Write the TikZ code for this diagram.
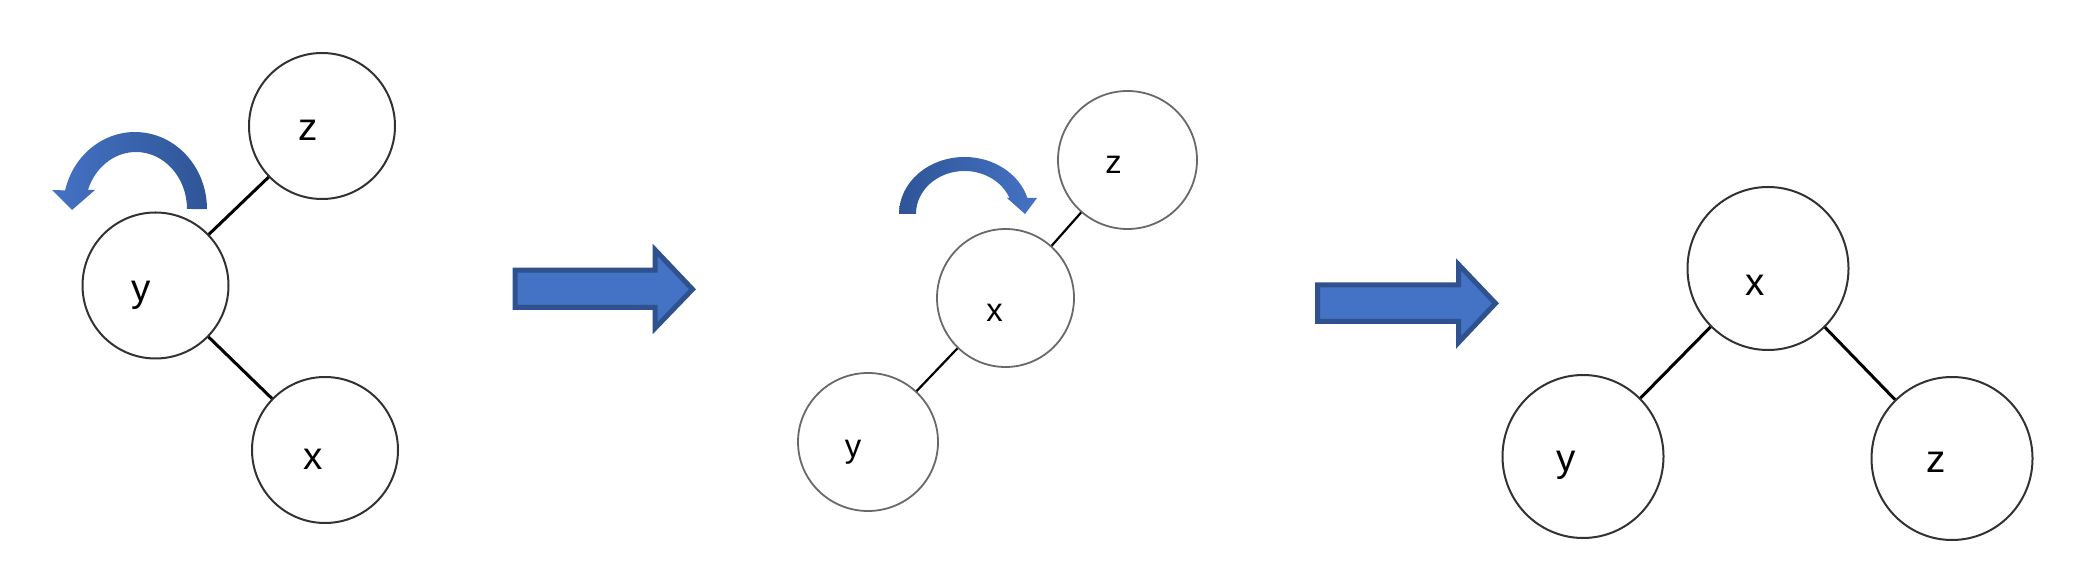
\documentclass[tikz,border=0pt]{standalone}
\usepackage{fontspec}
\setmainfont{Liberation Sans}
\usetikzlibrary{shapes.geometric}
\definecolor{arrfill}{RGB}{68,114,196}
\definecolor{arrline}{RGB}{47,82,143}
\definecolor{arrdark}{RGB}{47,85,151}
\definecolor{ringA}{RGB}{50,50,50}
\definecolor{ringB}{RGB}{105,105,105}
\tikzset{
  treenode/.style={ellipse, draw=ringA, line width=1pt, inner sep=0pt, fill=white},
  smallnode/.style={ellipse, draw=ringB, line width=0.9pt, inner sep=0pt, fill=white},
  lbl/.style={font=\fontsize{19.3}{22}\selectfont, text height=10pt, text depth=0pt, inner sep=0pt},
  lblsmall/.style={font=\fontsize{16.4}{19}\selectfont, text height=8.5pt, text depth=0pt, inner sep=0pt},
  edge/.style={draw=black, line width=1.5pt},
  edgesmall/.style={draw=black, line width=1.1pt},
  blockarrow/.style={fill=arrfill, draw=arrline, line width=2.5pt, line join=miter},
}
\begin{document}
\begin{tikzpicture}[x=0.5pt, y=0.5pt]
\useasboundingbox (0,0) rectangle (2081,583);

% ---------- diagram 1 ----------
\node[treenode, minimum width=73pt, minimum height=73pt,
      label={[lbl, xshift=-7pt, yshift=-2.5pt]center:z}] (z1) at (322,457) {};
\node[treenode, minimum width=73pt, minimum height=73pt,
      label={[lbl, xshift=-7pt, yshift=-3pt]center:y}] (y1) at (155.5,297.5) {};
\node[treenode, minimum width=73pt, minimum height=73pt,
      label={[lbl, xshift=-6pt, yshift=-5pt]center:x}] (x1) at (325,133) {};
\draw[edge] (y1) -- (z1);
\draw[edge] (y1) -- (x1);

% curved arrow 1 (rotating left)
\shade[left color=arrfill, right color=arrdark]
  (187,374) arc[start angle=0, end angle=160.5, x radius=51, y radius=57]
  -- (95,393) -- (72,373) -- (52,393) -- (65.1,392.6)
  arc[start angle=166, end angle=0, x radius=72, y radius=77]
  -- cycle;

% ---------- block arrow 1 ----------
\coordinate (ba1) at (515.2,312.8);
\draw[blockarrow] (ba1) -- (655.2,312.8) -- (655.2,333) -- (692.5,293.7)
  -- (655.2,255) -- (655.2,275.5) -- (515.2,275.5) -- cycle;

% ---------- diagram 2 ----------
\node[smallnode, minimum width=69.5pt, minimum height=69pt,
      label={[lblsmall, xshift=-7pt, yshift=-2.5pt]center:z}] (z2) at (1127.5,423) {};
\node[smallnode, minimum width=68.5pt, minimum height=69pt,
      label={[lblsmall, xshift=-5.5pt, yshift=-7.5pt]center:x}] (x2) at (1005.5,285) {};
\node[smallnode, minimum width=70pt, minimum height=69pt,
      label={[lblsmall, xshift=-7.5pt, yshift=-3.5pt]center:y}] (y2) at (868,141) {};
\draw[edgesmall] (x2) -- (z2);
\draw[edgesmall] (y2) -- (x2);

% curved arrow 2 (rotating right)
\shade[left color=arrdark, right color=arrfill]
  (899,369) arc[start angle=180, end angle=16.3, x radius=65.5, y radius=57]
  -- (1037,385) -- (1025,369) -- (1007,385) -- (1009.5,385)
  arc[start angle=21.8, end angle=180, x radius=48.5, y radius=43]
  -- cycle;

% ---------- block arrow 2 ----------
\coordinate (ba2) at (1317.5,298.2);
\draw[blockarrow] (ba2) -- (1458.5,298.2) -- (1458.5,318.5) -- (1495.5,279.7)
  -- (1458.5,240.5) -- (1458.5,261.5) -- (1317.5,261.5) -- cycle;

% ---------- diagram 3 ----------
\node[treenode, minimum width=80.5pt, minimum height=81.5pt,
      label={[lbl, xshift=-6.5pt, yshift=-8.5pt]center:x}] (x3) at (1768,314.5) {};
\node[treenode, minimum width=80.5pt, minimum height=81.5pt,
      label={[lbl, xshift=-8.5pt, yshift=-2.5pt]center:y}] (y3) at (1583,126.5) {};
\node[treenode, minimum width=80.5pt, minimum height=81.5pt,
      label={[lbl, xshift=-8pt, yshift=-2pt]center:z}] (z3) at (1952,124.5) {};
\draw[edge] (y3) -- (x3);
\draw[edge] (x3) -- (z3);
\end{tikzpicture}
\end{document}
